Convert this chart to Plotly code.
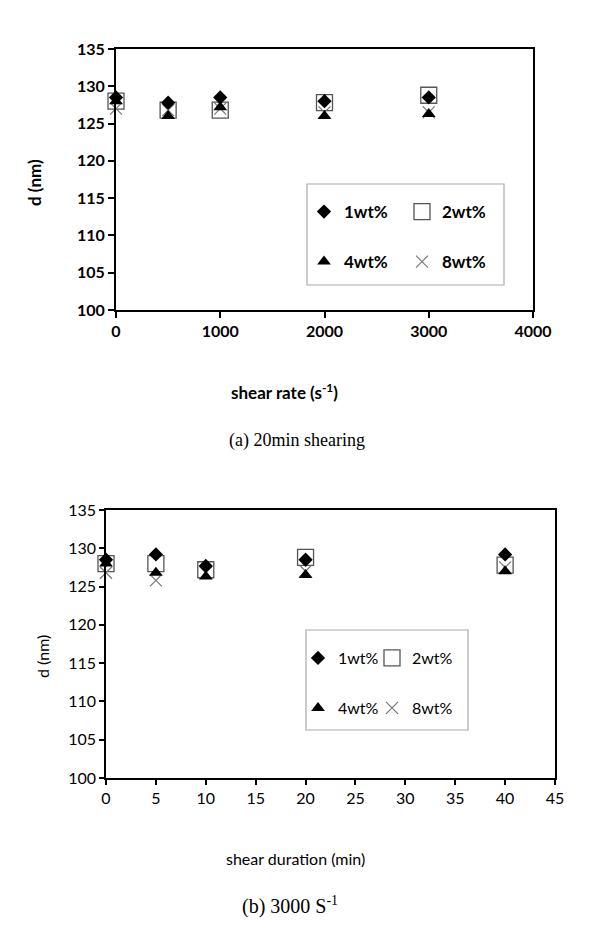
import plotly.graph_objects as go

# page body has an 8px margin; the figure is sized to fit the 600x945 window
OFF = 8
W, H = 600 - OFF, 945 - OFF

# ---- data: (a) 20 min shearing ----
rate = [0, 500, 1000, 2000, 3000]
a_1wt = [128.5, 127.8, 128.5, 128.0, 128.5]
a_2wt = [128.0, 126.8, 126.8, 127.8, 128.8]
a_4wt = [128.0, 126.0, 127.2, 126.0, 126.3]
a_8wt = [127.0, 126.8, 127.0, 126.5, 126.5]

# ---- data: (b) 3000 s-1 ----
duration = [0, 5, 10, 20, 40]
b_1wt = [128.5, 129.2, 127.7, 128.5, 129.2]
b_2wt = [128.0, 128.0, 127.2, 128.8, 127.8]
b_4wt = [128.0, 126.8, 126.3, 126.5, 127.0]
b_8wt = [126.8, 125.8, 126.8, 127.0, 127.5]

series_names = ["1wt%", "2wt%", "4wt%", "8wt%"]
x_ticks_a = [0, 1000, 2000, 3000, 4000]
x_ticks_b = [0, 5, 10, 15, 20, 25, 30, 35, 40, 45]
y_ticks = [100, 105, 110, 115, 120, 125, 130, 135]

def py(p):
    return 1 - (p - OFF) / H

def px(p):
    return (p - OFF) / W

styles = {
    "1wt%": dict(symbol="diamond", size=11, color="black", line=dict(width=0)),
    "2wt%": dict(symbol="square-open", size=16, color="#555555", line=dict(width=1.3, color="#555555")),
    "4wt%": dict(symbol="triangle-up", size=12, color="black", line=dict(width=0)),
    "8wt%": dict(symbol="x-thin-open", size=12, color="#777777", line=dict(width=1.2, color="#777777")),
}
draw_order = ["2wt%", "8wt%", "4wt%", "1wt%"]

# one legend per entry so the 2x2 grid can be placed freely
top_leg_font = dict(family="Lato", size=17, color="black", weight="bold")
bot_leg_font = dict(family="Lato", size=16, color="black")
legend_pos = {
    # (panel, series): (legend id, left px, centre y px, font)
    ("a", "1wt%"): ("legend", 304, 212, top_leg_font),
    ("a", "2wt%"): ("legend2", 402, 212, top_leg_font),
    ("a", "4wt%"): ("legend3", 304, 262, top_leg_font),
    ("a", "8wt%"): ("legend4", 402, 262, top_leg_font),
    ("b", "1wt%"): ("legend5", 298, 658, bot_leg_font),
    ("b", "2wt%"): ("legend6", 372, 658, bot_leg_font),
    ("b", "4wt%"): ("legend7", 298, 708, bot_leg_font),
    ("b", "8wt%"): ("legend8", 372, 708, bot_leg_font),
}

fig = go.Figure()

panels = [
    ("a", "x", "y", rate, {"1wt%": a_1wt, "2wt%": a_2wt, "4wt%": a_4wt, "8wt%": a_8wt}),
    ("b", "x2", "y2", duration, {"1wt%": b_1wt, "2wt%": b_2wt, "4wt%": b_4wt, "8wt%": b_8wt}),
]
for pid, xa, ya, xs, data in panels:
    for name in draw_order:
        leg = legend_pos[(pid, name)][0]
        fig.add_trace(go.Scatter(
            x=xs, y=data[name], mode="markers", name=name,
            marker=styles[name], xaxis=xa, yaxis=ya, legend=leg,
            cliponaxis=False, showlegend=True,
        ))

axis_common = dict(showline=True, mirror=True, linecolor="black", ticks="outside",
                   tickcolor="black", showgrid=False, zeroline=False, automargin=False)

top_font = dict(family="Lato", size=16, color="black", weight="bold")
bot_font = dict(family="Lato", size=16, color="black")

fig.update_layout(
    width=W, height=H, margin=dict(l=0, r=0, t=0, b=0, autoexpand=False),
    paper_bgcolor="white", plot_bgcolor="white",
    xaxis=dict(domain=[px(116), px(533)], range=[0, 4000], tickvals=x_ticks_a,
               linewidth=2, tickwidth=2, ticklen=6, tickfont=top_font, anchor="y",
               **axis_common),
    yaxis=dict(domain=[py(310), py(49)], range=[100, 135], tickvals=y_ticks,
               linewidth=2, tickwidth=2, ticklen=6, tickfont=top_font, anchor="x",
               **axis_common),
    xaxis2=dict(domain=[px(106), px(555)], range=[0, 45], tickvals=x_ticks_b,
                linewidth=1.5, tickwidth=1.5, ticklen=5, tickfont=bot_font, anchor="y2",
                **axis_common),
    yaxis2=dict(domain=[py(778), py(510)], range=[100, 135], tickvals=y_ticks,
                linewidth=1.5, tickwidth=1.5, ticklen=5, tickfont=bot_font, anchor="x2",
                **axis_common),
)

leg_common = dict(orientation="h", bgcolor="rgba(0,0,0,0)", borderwidth=0,
                  xanchor="left", yanchor="middle", itemclick=False, itemwidth=30)
leg_layout = {}
for (pid, name), (lid, lx, ly, lfont) in legend_pos.items():
    leg_layout[lid] = dict(x=px(lx), y=py(ly), font=lfont, **leg_common)
fig.update_layout(**leg_layout)

shapes = [
    dict(type="rect", xref="paper", yref="paper", x0=px(307), x1=px(504), y0=py(285), y1=py(184),
         line=dict(color="#aaaaaa", width=1.2), fillcolor="rgba(0,0,0,0)", layer="below"),
    dict(type="rect", xref="paper", yref="paper", x0=px(306), x1=px(468), y0=py(730), y1=py(630),
         line=dict(color="#aaaaaa", width=1.2), fillcolor="rgba(0,0,0,0)", layer="below"),
]
fig.update_layout(shapes=shapes)

annotations = [
    dict(text="d (nm)", x=px(34), y=py(183), textangle=-90, font=dict(family="Lato", size=17, color="black", weight="bold")),
    dict(text="shear rate (s<sup>-1</sup>)", x=px(284), y=py(392), font=dict(family="Lato", size=17, color="black", weight="bold")),
    dict(text="(a) 20min shearing", x=px(297), y=py(440), font=dict(family="Liberation Serif", size=18, color="black")),
    dict(text="d (nm)", x=px(42), y=py(657), textangle=-90, font=dict(family="Lato", size=16, color="black")),
    dict(text="shear duration (min)", x=px(295), y=py(858), font=dict(family="Lato", size=16, color="black")),
    dict(text="(b) 3000 S<sup>-1</sup>", x=px(290), y=py(905), font=dict(family="Liberation Serif", size=20, color="black")),
]
for a in annotations:
    a.update(xref="paper", yref="paper", showarrow=False, xanchor="center", yanchor="middle")
fig.update_layout(annotations=annotations)

fig.write_html("out.html")
